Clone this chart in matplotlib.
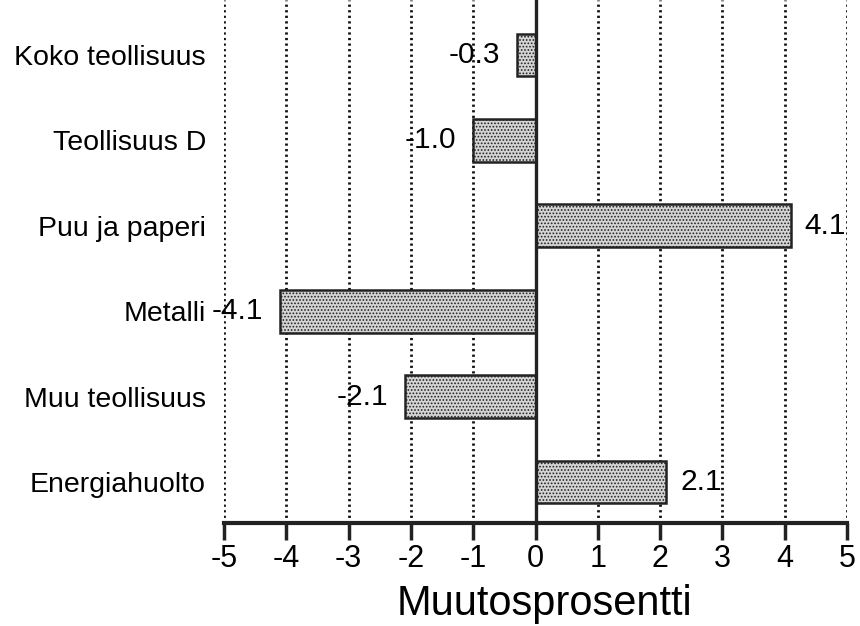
import matplotlib
matplotlib.use('Agg')
import matplotlib.pyplot as plt
import numpy as np

categories = ['Koko teollisuus', 'Teollisuus D', 'Puu ja paperi', 'Metalli',
              'Muu teollisuus', 'Energiahuolto']
values = [-0.3, -1.0, 4.1, -4.1, -2.1, 2.1]
value_labels = ['-0.3', '-1.0', '4.1', '-4.1', '-2.1', '2.1']
xticks = [-5, -4, -3, -2, -1, 0, 1, 2, 3, 4, 5]

plt.rcParams['font.family'] = ['Liberation Sans', 'DejaVu Sans']
plt.rcParams['hatch.color'] = '#7a7a7a'
plt.rcParams['hatch.linewidth'] = 0.8

fig = plt.figure(figsize=(8.6, 6.26), dpi=100)
ax = fig.add_axes([0.2605, 0.1645, 0.7245, 0.8355])

y = np.arange(len(categories))

# 点线网格
for t in xticks:
    if t != 0:
        ax.axvline(t, color='#111111', linestyle=(0, (0.8, 1.2)), linewidth=2.0, zorder=1)
ax.axvline(0, color='#222222', linewidth=2.4, zorder=3)

ax.barh(y, values, height=0.5, color='#d4d4d4', edgecolor='#222222',
        linewidth=1.8, hatch='.....', zorder=2)

for yi, v, lab in zip(y, values, value_labels):
    if v < 0:
        ax.text(v - 0.27, yi, lab, ha='right', va='center', fontsize=21.5, zorder=4)
    else:
        ax.text(v + 0.22, yi, lab, ha='left', va='center', fontsize=21.5, zorder=4)

ax.set_xlim(-5, 5)
ax.set_ylim(5.48, -0.644)
ax.set_xticks(xticks)
ax.set_xticklabels([str(t) for t in xticks], fontsize=22)
ax.set_yticks(y)
ax.set_yticklabels(categories, fontsize=20.5)
ax.tick_params(axis='y', length=0, pad=13)
ax.tick_params(axis='x', direction='out', length=12, width=2.5, pad=3, color='#222222')

for s in ['top', 'right', 'left']:
    ax.spines[s].set_visible(False)
ax.spines['bottom'].set_linewidth(3)
ax.spines['bottom'].set_color('#222222')

ax.set_xlabel('Muutosprosentti', fontsize=30, labelpad=7)
ax.xaxis.label.set_x(0.515)

fig.savefig('out.png', dpi=100)
